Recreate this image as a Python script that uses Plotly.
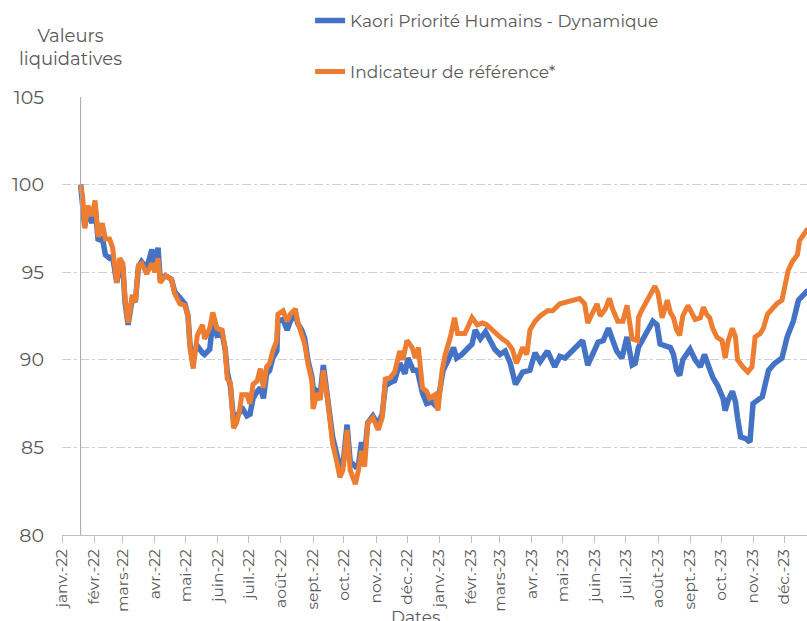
import plotly.graph_objects as go

# ---------------- data ----------------
orange_dates = [
    "2022-01-19", "2022-01-21", "2022-01-23", "2022-01-26", "2022-01-30",
    "2022-02-02", "2022-02-05", "2022-02-09", "2022-02-12", "2022-02-16", "2022-02-19", "2022-02-23", "2022-02-26",
    "2022-03-01", "2022-03-03", "2022-03-06", "2022-03-10", "2022-03-13", "2022-03-16", "2022-03-19", "2022-03-24", "2022-03-29",
    "2022-04-01", "2022-04-04", "2022-04-06", "2022-04-11", "2022-04-17", "2022-04-20", "2022-04-25", "2022-04-30",
    "2022-05-03", "2022-05-05", "2022-05-08", "2022-05-12", "2022-05-17", "2022-05-19", "2022-05-24", "2022-05-27", "2022-05-31",
    "2022-06-05", "2022-06-08", "2022-06-10", "2022-06-13", "2022-06-16", "2022-06-19", "2022-06-22", "2022-06-24", "2022-06-29",
    "2022-07-02", "2022-07-05", "2022-07-09", "2022-07-12", "2022-07-15", "2022-07-18", "2022-07-21", "2022-07-24", "2022-07-28", "2022-07-29",
    "2022-08-03", "2022-08-07", "2022-08-10", "2022-08-15", "2022-08-17", "2022-08-21", "2022-08-24", "2022-08-27", "2022-08-31",
    "2022-09-01", "2022-09-05", "2022-09-08", "2022-09-11", "2022-09-15", "2022-09-17", "2022-09-20", "2022-09-24", "2022-09-27", "2022-09-30",
    "2022-10-04", "2022-10-07", "2022-10-12", "2022-10-15", "2022-10-18", "2022-10-21", "2022-10-24", "2022-10-29",
    "2022-11-03", "2022-11-07", "2022-11-10", "2022-11-15", "2022-11-19", "2022-11-24", "2022-11-27",
    "2022-12-01", "2022-12-06", "2022-12-09", "2022-12-12", "2022-12-16", "2022-12-20", "2022-12-23", "2022-12-28", "2022-12-31",
    "2023-01-04", "2023-01-07", "2023-01-12", "2023-01-16", "2023-01-19", "2023-01-26",
    "2023-02-02", "2023-02-07", "2023-02-12", "2023-02-16", "2023-02-21", "2023-02-26",
    "2023-03-03", "2023-03-08", "2023-03-13", "2023-03-17", "2023-03-20", "2023-03-23", "2023-03-27", "2023-03-30",
    "2023-04-04", "2023-04-09", "2023-04-16", "2023-04-21", "2023-04-28",
    "2023-05-05", "2023-05-11", "2023-05-17", "2023-05-22", "2023-05-25", "2023-05-29",
    "2023-06-03", "2023-06-06", "2023-06-11", "2023-06-15", "2023-06-18", "2023-06-23", "2023-06-28",
    "2023-07-02", "2023-07-07", "2023-07-12", "2023-07-13", "2023-07-16", "2023-07-21", "2023-07-26", "2023-07-29",
    "2023-08-01", "2023-08-05", "2023-08-10", "2023-08-13", "2023-08-16", "2023-08-19", "2023-08-22", "2023-08-25", "2023-08-30",
    "2023-09-06", "2023-09-11", "2023-09-14", "2023-09-17", "2023-09-20", "2023-09-23", "2023-09-27",
    "2023-10-02", "2023-10-05", "2023-10-08", "2023-10-12", "2023-10-15", "2023-10-17", "2023-10-22", "2023-10-27", "2023-10-31",
    "2023-11-03", "2023-11-08", "2023-11-11", "2023-11-15", "2023-11-19", "2023-11-24", "2023-11-29",
    "2023-12-02", "2023-12-05", "2023-12-09", "2023-12-14", "2023-12-16", "2023-12-19", "2023-12-23", "2023-12-29",
]
orange_values = [
    100.0, 99.3, 97.5, 98.8, 98.2,
    99.1, 97.0, 97.8, 96.9, 96.9, 96.4, 94.4, 95.8,
    95.5, 93.5, 92.1, 93.7, 93.3, 95.4, 95.5, 94.9, 95.5,
    95.0, 95.8, 94.4, 94.8, 94.6, 93.8, 93.2, 93.1,
    92.5, 90.6, 89.5, 91.4, 92.0, 91.2, 91.8, 92.7, 91.8,
    91.7, 90.6, 88.9, 88.7, 86.1, 86.4, 87.1, 88.0, 88.0,
    87.5, 88.6, 88.8, 89.5, 88.4, 89.6, 89.8, 90.5, 91.1, 92.6,
    92.8, 92.2, 92.6, 92.9, 92.2, 91.5, 90.9, 89.8, 88.8,
    87.2, 88.1, 87.7, 89.4, 87.8, 86.7, 85.2, 84.2, 83.3, 83.7,
    86.0, 83.7, 82.9, 83.7, 84.8, 83.9, 86.4, 86.7,
    86.0, 86.7, 88.9, 89.0, 89.3, 90.5, 90.0,
    91.1, 90.7, 90.1, 90.7, 88.4, 88.2, 87.8, 88.0, 87.1,
    89.4, 90.3, 91.3, 92.4, 91.5, 91.5,
    92.4, 92.0, 92.1, 92.0, 91.7, 91.4,
    91.2, 91.0, 90.6, 89.8, 90.3, 90.7, 90.3, 91.7,
    92.2, 92.5, 92.8, 92.8, 93.2,
    93.3, 93.4, 93.5, 93.2, 92.1, 92.6,
    93.2, 92.5, 92.9, 93.5, 92.9, 92.2, 92.2,
    93.1, 91.2, 91.1, 92.4, 92.8, 93.3, 93.8, 94.2,
    93.8, 92.4, 93.4, 92.7, 92.4, 91.7, 91.4, 92.5, 93.1,
    92.3, 92.4, 93.0, 92.6, 92.4, 91.8, 91.3,
    91.1, 90.1, 91.1, 91.8, 91.3, 90.0, 89.6, 89.3, 89.6,
    91.3, 91.5, 91.8, 92.6, 92.9, 93.2, 93.4,
    94.2, 95.1, 95.6, 96.0, 96.8, 97.1, 97.4, 97.6,
]

blue_dates = [
    "2022-01-19", "2022-01-21", "2022-01-23", "2022-01-26", "2022-01-30",
    "2022-02-02", "2022-02-05", "2022-02-09", "2022-02-12", "2022-02-16", "2022-02-19", "2022-02-23", "2022-02-26",
    "2022-03-01", "2022-03-03", "2022-03-06", "2022-03-10", "2022-03-13", "2022-03-16", "2022-03-19", "2022-03-24", "2022-03-29",
    "2022-04-01", "2022-04-04", "2022-04-06", "2022-04-11", "2022-04-17", "2022-04-20", "2022-04-25", "2022-04-30",
    "2022-05-03", "2022-05-05", "2022-05-08", "2022-05-12", "2022-05-17", "2022-05-19", "2022-05-24", "2022-05-27", "2022-05-31",
    "2022-06-05", "2022-06-08", "2022-06-10", "2022-06-13", "2022-06-16", "2022-06-19", "2022-06-22", "2022-06-24", "2022-06-29",
    "2022-07-02", "2022-07-05", "2022-07-09", "2022-07-12", "2022-07-15", "2022-07-18", "2022-07-21", "2022-07-24", "2022-07-28", "2022-07-29",
    "2022-08-03", "2022-08-07", "2022-08-10", "2022-08-15", "2022-08-17", "2022-08-21", "2022-08-24", "2022-08-27", "2022-08-31",
    "2022-09-01", "2022-09-05", "2022-09-08", "2022-09-11", "2022-09-15", "2022-09-17", "2022-09-20", "2022-09-24", "2022-09-27", "2022-09-30",
    "2022-10-04", "2022-10-07", "2022-10-12", "2022-10-15", "2022-10-18", "2022-10-21", "2022-10-24", "2022-10-29",
    "2022-11-03", "2022-11-07", "2022-11-10", "2022-11-15", "2022-11-19", "2022-11-24", "2022-11-29",
    "2022-12-02", "2022-12-07", "2022-12-11", "2022-12-16", "2022-12-20", "2022-12-25", "2022-12-30",
    "2023-01-02", "2023-01-05", "2023-01-10", "2023-01-15", "2023-01-18", "2023-01-23", "2023-01-28",
    "2023-02-02", "2023-02-05", "2023-02-10", "2023-02-15", "2023-02-19", "2023-02-24",
    "2023-03-01", "2023-03-06", "2023-03-11", "2023-03-16", "2023-03-18", "2023-03-23", "2023-03-30",
    "2023-04-04", "2023-04-09", "2023-04-16", "2023-04-23", "2023-04-28",
    "2023-05-03", "2023-05-08", "2023-05-13", "2023-05-17", "2023-05-20", "2023-05-25", "2023-05-29",
    "2023-06-01", "2023-06-04", "2023-06-09", "2023-06-14", "2023-06-17", "2023-06-22", "2023-06-27",
    "2023-07-02", "2023-07-07", "2023-07-10", "2023-07-13", "2023-07-17", "2023-07-22", "2023-07-27", "2023-07-31",
    "2023-08-03", "2023-08-08", "2023-08-13", "2023-08-16", "2023-08-19", "2023-08-22", "2023-08-25",
    "2023-09-01", "2023-09-06", "2023-09-11", "2023-09-15", "2023-09-18", "2023-09-23", "2023-09-28",
    "2023-10-03", "2023-10-05", "2023-10-08", "2023-10-12", "2023-10-15", "2023-10-17", "2023-10-20", "2023-10-25", "2023-10-29",
    "2023-11-01", "2023-11-05", "2023-11-10", "2023-11-12", "2023-11-16", "2023-11-22", "2023-11-29",
    "2023-12-04", "2023-12-10", "2023-12-15", "2023-12-19", "2023-12-23", "2023-12-29",
]
blue_values = [
    100.0, 99.0, 97.6, 98.6, 97.8,
    98.8, 96.8, 97.0, 96.0, 95.8, 95.9, 94.4, 95.4,
    95.2, 93.3, 92.0, 93.5, 93.3, 95.3, 95.6, 95.2, 96.3,
    95.2, 96.4, 94.6, 94.8, 94.6, 93.9, 93.5, 93.2,
    92.5, 90.8, 90.3, 90.8, 90.4, 90.3, 90.6, 92.2, 91.4,
    91.5, 90.6, 89.3, 88.5, 86.6, 86.8, 87.0, 87.3, 86.8,
    86.9, 87.8, 88.2, 88.4, 87.8, 89.2, 89.4, 90.1, 90.5, 92.2,
    92.3, 91.7, 92.2, 92.7, 92.1, 91.7, 91.2, 90.0, 89.0,
    88.4, 88.2, 88.0, 89.7, 88.0, 87.0, 85.6, 84.6, 83.9, 84.0,
    86.3, 84.2, 83.9, 84.0, 85.3, 84.6, 86.4, 86.8,
    86.3, 86.9, 88.5, 88.7, 88.8, 89.8, 89.2,
    90.1, 89.4, 89.4, 88.1, 87.5, 87.6, 87.3,
    88.2, 89.4, 90.0, 90.7, 90.1, 90.3, 90.6,
    90.9, 91.7, 91.2, 91.6, 91.1, 90.6,
    90.3, 90.5, 89.8, 88.6, 88.8, 89.3, 89.4,
    90.4, 89.9, 90.5, 89.6, 90.2,
    90.1, 90.4, 90.6, 90.9, 91.1, 89.7, 90.3,
    90.7, 91.0, 91.1, 91.8, 91.3, 90.5, 90.1,
    91.3, 89.7, 89.8, 90.7, 91.1, 91.6, 92.2, 92.0,
    90.9, 90.8, 90.7, 90.3, 89.4, 89.1, 90.0,
    90.6, 90.0, 89.6, 90.3, 89.8, 89.0, 88.5,
    87.8, 87.1, 87.7, 88.2, 87.6, 86.7, 85.6, 85.5, 85.3,
    87.5, 87.7, 87.9, 88.4, 89.4, 89.8, 90.1,
    91.3, 92.2, 93.4, 93.7, 93.9, 94.0,
]

series_names = ["Kaori Priorité Humains - Dynamique", "Indicateur de référence*"]

month_ticks = [
    "2022-01-01", "2022-02-01", "2022-03-01", "2022-04-01", "2022-05-01", "2022-06-01",
    "2022-07-01", "2022-08-01", "2022-09-01", "2022-10-01", "2022-11-01", "2022-12-01",
    "2023-01-01", "2023-02-01", "2023-03-01", "2023-04-01", "2023-05-01", "2023-06-01",
    "2023-07-01", "2023-08-01", "2023-09-01", "2023-10-01", "2023-11-01", "2023-12-01",
]
month_labels = [
    "janv.-22", "févr.-22", "mars-22", "avr.-22", "mai-22", "juin-22",
    "juil.-22", "août-22", "sept.-22", "oct.-22", "nov.-22", "déc.-22",
    "janv.-23", "févr.-23", "mars-23", "avr.-23", "mai-23", "juin-23",
    "juil.-23", "août-23", "sept.-23", "oct.-23", "nov.-23", "déc.-23",
]

y_ticks = [80, 85, 90, 95, 100, 105]

# ---------------- figure ----------------
FONT = "Montserrat, Open Sans, sans-serif"
GREY = "#595959"
BLUE = "#4472C4"
ORANGE = "#ED7D31"

fig = go.Figure()
fig.add_trace(go.Scatter(
    x=blue_dates, y=blue_values, mode="lines", name=series_names[0],
    line=dict(color=BLUE, width=5.5), legendgroup="a",
))
fig.add_trace(go.Scatter(
    x=orange_dates, y=orange_values, mode="lines", name=series_names[1],
    line=dict(color=ORANGE, width=5), legendgroup="b",
))

# vertical axis line crossing at the first date of the series
fig.add_shape(type="line", xref="x", yref="y",
              x0=blue_dates[0], x1=blue_dates[0], y0=y_ticks[0], y1=y_ticks[-1],
              line=dict(color="#A6A6A6", width=1), layer="above")

fig.update_layout(
    width=807, height=621,
    margin=dict(l=62, r=0, t=97, b=86, autoexpand=False),
    paper_bgcolor="white", plot_bgcolor="white",
    font=dict(family=FONT, color=GREY, size=17),
    showlegend=True,
    legend=dict(
        x=0.333, y=1.215, xanchor="left", yanchor="top",
        orientation="v", tracegroupgap=26,
        font=dict(size=17, color=GREY, family=FONT),
        bgcolor="rgba(0,0,0,0)",
    ),
    xaxis=dict(
        type="date", automargin=False,
        range=["2022-01-01", "2023-12-23 06:00"],
        tickmode="array", tickvals=month_ticks, ticktext=month_labels,
        tickangle=-90, ticks="outside", ticklen=7, tickcolor="#BFBFBF",
        showline=True, linecolor="#BFBFBF", linewidth=1,
        showgrid=False, zeroline=False,
        tickfont=dict(size=15.5, color=GREY, family=FONT),
    ),
    yaxis=dict(
        automargin=False,
        range=[y_ticks[0], y_ticks[-1]],
        tickmode="array", tickvals=y_ticks,
        showgrid=True, gridcolor="#D0D0D0", griddash="dashdot", gridwidth=1,
        showline=False, zeroline=False, ticks="",
        ticklabelstandoff=17,
        tickfont=dict(size=19, color=GREY, family=FONT),
    ),
    annotations=[
        dict(text="Valeurs<br>liquidatives", xref="paper", yref="paper",
             x=0.011, y=1.112, xanchor="center", yanchor="middle",
             showarrow=False, align="center",
             font=dict(size=18, color=GREY, family=FONT)),
        dict(text="Dates", xref="paper", yref="paper",
             x=0.474, y=-0.187, xanchor="center", yanchor="middle",
             showarrow=False, font=dict(size=17, color=GREY, family=FONT)),
    ],
)

fig.write_html(
    "out.html",
    config={"displayModeBar": False},
    post_script="document.body.style.margin='0';document.body.style.overflow='hidden';",
)
